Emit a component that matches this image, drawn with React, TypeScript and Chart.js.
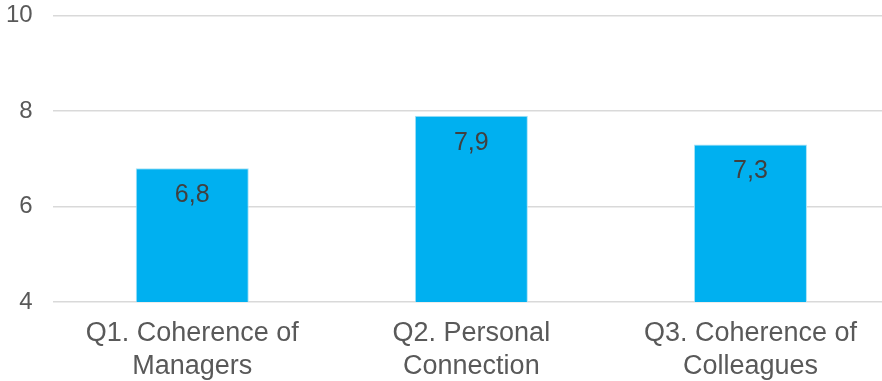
import React, { useEffect, useRef } from "react";
import { Chart, registerables } from "chart.js";

Chart.register(...registerables);

const categories: string[][] = [
  ["Q1. Coherence of", "Managers"],
  ["Q2. Personal", "Connection"],
  ["Q3. Coherence of", "Colleagues"],
];
const scores: number[] = [6.8, 7.9, 7.3];
const yTicks: number[] = [4, 6, 8, 10];

const FONT = "'Liberation Sans', Arial, sans-serif";

const valueLabels = {
  id: "valueLabels",
  afterDatasetsDraw(chart: any) {
    const ctx = chart.ctx;
    const meta = chart.getDatasetMeta(0);
    ctx.save();
    ctx.font = `25px ${FONT}`;
    ctx.fillStyle = "#404040";
    ctx.textAlign = "center";
    ctx.textBaseline = "middle";
    meta.data.forEach((bar: any, i: number) => {
      const v = chart.data.datasets[0].data[i] as number;
      const txt = v.toFixed(1).replace(".", ",");
      ctx.fillText(txt, bar.x, bar.y + 27);
    });
    ctx.restore();
  },
};

export default function App() {
  const ref = useRef<HTMLCanvasElement | null>(null);
  useEffect(() => {
    if (!ref.current) return;
    const chart = new Chart(ref.current, {
      type: "bar",
      data: {
        labels: categories,
        datasets: [
          {
            data: scores,
            backgroundColor: "#00B0F0",
            borderColor: "#A8E2F5",
            borderWidth: 1,
            barPercentage: 0.405,
            categoryPercentage: 1,
          },
        ],
      },
      options: {
        animation: false,
        responsive: false,
        layout: { padding: { top: 0, right: 0, bottom: 0, left: 0 } },
        plugins: {
          legend: { display: false },
          tooltip: { enabled: false },
        },
        scales: {
          x: {
            grid: { display: false },
            border: { display: false },
            ticks: {
              color: "#595959",
              font: { family: FONT, size: 27, lineHeight: 1.22 },
              padding: 7,
              maxRotation: 0,
              autoSkip: false,
            },
          },
          y: {
            min: 4,
            max: 10,
            afterBuildTicks: (axis: any) => {
              axis.ticks = yTicks.map((v) => ({ value: v }));
            },
            grid: { color: "#D9D9D9", lineWidth: 1.5, drawTicks: false },
            border: { display: false },
            ticks: {
              color: "#595959",
              font: { family: FONT, size: 24 },
              padding: 20,
            },
          },
        },
      },
      plugins: [valueLabels],
    });
    return () => chart.destroy();
  }, []);
  return (
    <div style={{ position: "fixed", left: -14, top: -19, width: 904, height: 409, background: "#fff" }}>
      <canvas ref={ref} width={904} height={409} />
    </div>
  );
}
